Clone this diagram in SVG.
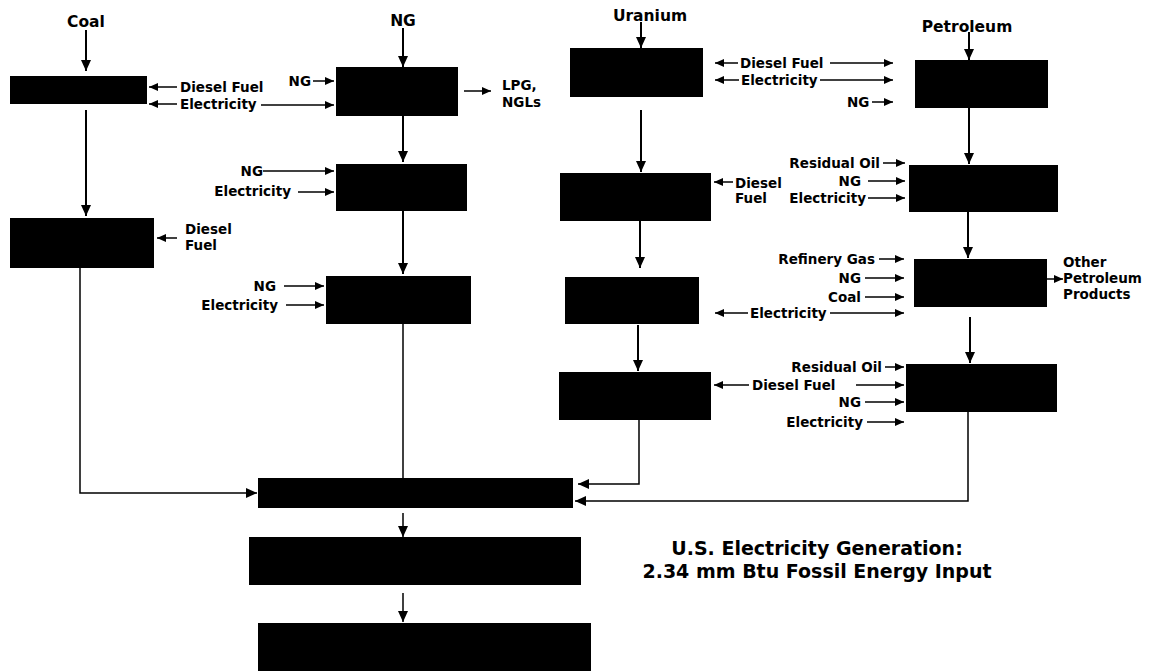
<svg xmlns="http://www.w3.org/2000/svg" width="1150" height="671" viewBox="0 0 1150 671">
<defs>
<style>
.box{fill:#000}
.t{font-family:"DejaVu Sans","Liberation Sans",sans-serif;font-weight:bold;font-size:13.5px;fill:#000}
.h{font-family:"DejaVu Sans","Liberation Sans",sans-serif;font-weight:bold;font-size:15.5px;fill:#000}
.ttl{font-family:"DejaVu Sans","Liberation Sans",sans-serif;font-weight:bold;font-size:19px;fill:#000}
.e{text-anchor:end}
.m{text-anchor:middle}
.c{fill:none;stroke:#000;stroke-width:1.5}
.main{fill:none;stroke:#000;stroke-width:2}
.s{marker-end:url(#ah)}
.L{marker-end:url(#ahL)}
</style>
<marker id="ah" markerUnits="userSpaceOnUse" markerWidth="9" markerHeight="8" refX="9" refY="4" orient="auto"><path d="M0,0 L9,4 L0,8 z" fill="#000"/></marker>
<marker id="ahL" markerUnits="userSpaceOnUse" markerWidth="11" markerHeight="10" refX="11" refY="5" orient="auto"><path d="M0,0 L11,5 L0,10 z" fill="#000"/></marker>
</defs>
<rect width="1150" height="671" fill="#fff"/>

<!-- column headers -->
<text class="h m" x="86" y="27">Coal</text>
<text class="h m" x="403" y="26">NG</text>
<text class="h m" x="650" y="21">Uranium</text>
<text class="h m" x="967" y="32">Petroleum</text>

<!-- nodes -->
<g id="coal1"><rect class="box" x="10" y="76" width="137" height="28"/></g>
<g id="coal2"><rect class="box" x="10" y="218" width="144" height="50"/></g>
<g id="ng1"><rect class="box" x="336" y="67" width="122" height="49"/></g>
<g id="ng2"><rect class="box" x="336" y="164" width="131" height="47"/></g>
<g id="ng3"><rect class="box" x="326" y="276" width="145" height="48"/></g>
<g id="ur1"><rect class="box" x="570" y="48" width="133" height="49"/></g>
<g id="ur2"><rect class="box" x="560" y="173" width="151" height="48"/></g>
<g id="ur3"><rect class="box" x="565" y="277" width="134" height="47"/></g>
<g id="ur4"><rect class="box" x="559" y="372" width="152" height="48"/></g>
<g id="pet1"><rect class="box" x="915" y="60" width="133" height="48"/></g>
<g id="pet2"><rect class="box" x="909" y="165" width="149" height="47"/></g>
<g id="pet3"><rect class="box" x="914" y="259" width="133" height="48"/></g>
<g id="pet4"><rect class="box" x="906" y="364" width="151" height="48"/></g>
<g id="collect"><rect class="box" x="258" y="478" width="315" height="30"/></g>
<g id="gen"><rect class="box" x="249" y="537" width="332" height="48"/></g>
<g id="out"><rect class="box" x="258" y="623" width="333" height="48"/></g>
<g id="title">
<text class="ttl m" x="817" y="555">U.S. Electricity Generation:</text>
<text class="ttl m" x="817" y="578">2.34 mm Btu Fossil Energy Input</text>
</g>

<!-- connectors -->
<g id="connectors">
<path class="main L" d="M86,30 V71"/>
<path class="main L" d="M86,110 V216"/>
<path class="c L" d="M80,268 V493 H257"/>
<path class="main L" d="M403,28 V67"/>
<path class="main L" d="M403,116 V162"/>
<path class="main L" d="M403,211 V274"/>
<path class="c" d="M403,324 V478"/>
<path class="main L" d="M641,22 V48"/>
<path class="main L" d="M641,110 V172"/>
<path class="main L" d="M640,221 V268"/>
<path class="main L" d="M638,325 V371"/>
<path class="c L" d="M639,420 V484 H578"/>
<path class="main L" d="M969,32 V60"/>
<path class="main L" d="M969,108 V164"/>
<path class="main L" d="M968,212 V258"/>
<path class="main L" d="M970,317 V363"/>
<path class="c L" d="M968,412 V501 H575"/>
<path class="c L" d="M403,513 V537"/>
<path class="c L" d="M403,593 V622"/>

<path class="c s" d="M177,87 H149"/>
<path class="c s" d="M177,104 H149"/>
<path class="c s" d="M261,105 H334"/>
<path class="c s" d="M177,238 H157"/>
<path class="c s" d="M313,81 H334"/>
<path class="c s" d="M464,91 H491"/>
<path class="c s" d="M263,171 H334"/>
<path class="c s" d="M298,192 H334"/>
<path class="c s" d="M284,286 H324"/>
<path class="c s" d="M286,305 H324"/>
<path class="c s" d="M738,63 H715"/>
<path class="c s" d="M830,63 H893"/>
<path class="c s" d="M739,80 H715"/>
<path class="c s" d="M820,80 H893"/>
<path class="c s" d="M872,102 H893"/>
<path class="c s" d="M733,182 H714"/>
<path class="c s" d="M883,163 H905"/>
<path class="c s" d="M868,181 H905"/>
<path class="c s" d="M868,198 H905"/>
<path class="c s" d="M879,259 H904"/>
<path class="c s" d="M865,278 H904"/>
<path class="c s" d="M865,297 H904"/>
<path class="c s" d="M748,313 H715"/>
<path class="c s" d="M830,313 H904"/>
<path class="c s" d="M1047,279 H1063"/>
<path class="c s" d="M885,367 H904"/>
<path class="c s" d="M749,385 H714"/>
<path class="c s" d="M856,385 H904"/>
<path class="c s" d="M865,402 H904"/>
<path class="c s" d="M867,422 H904"/>
</g>

<!-- labels -->
<g id="labels">
<text class="t" x="180" y="92">Diesel Fuel</text>
<text class="t" x="180" y="109">Electricity</text>
<text class="t" x="185" y="234">Diesel</text>
<text class="t" x="185" y="250">Fuel</text>
<text class="t e" x="311" y="86">NG</text>
<text class="t" x="502" y="90">LPG,</text>
<text class="t" x="502" y="107">NGLs</text>
<text class="t e" x="263" y="176">NG</text>
<text class="t e" x="291" y="196">Electricity</text>
<text class="t e" x="276" y="291">NG</text>
<text class="t e" x="278" y="310">Electricity</text>
<text class="t" x="740" y="68">Diesel Fuel</text>
<text class="t" x="741" y="85">Electricity</text>
<text class="t" x="847" y="107">NG</text>
<text class="t" x="735" y="188">Diesel</text>
<text class="t" x="735" y="203">Fuel</text>
<text class="t e" x="880" y="168">Residual Oil</text>
<text class="t e" x="861" y="186">NG</text>
<text class="t e" x="866" y="203">Electricity</text>
<text class="t e" x="875" y="264">Refinery Gas</text>
<text class="t e" x="861" y="283">NG</text>
<text class="t e" x="861" y="302">Coal</text>
<text class="t" x="750" y="318">Electricity</text>
<text class="t" x="1063" y="267">Other</text>
<text class="t" x="1063" y="283">Petroleum</text>
<text class="t" x="1063" y="299">Products</text>
<text class="t e" x="882" y="372">Residual Oil</text>
<text class="t" x="752" y="390">Diesel Fuel</text>
<text class="t e" x="861" y="407">NG</text>
<text class="t e" x="863" y="427">Electricity</text>
</g>
</svg>
